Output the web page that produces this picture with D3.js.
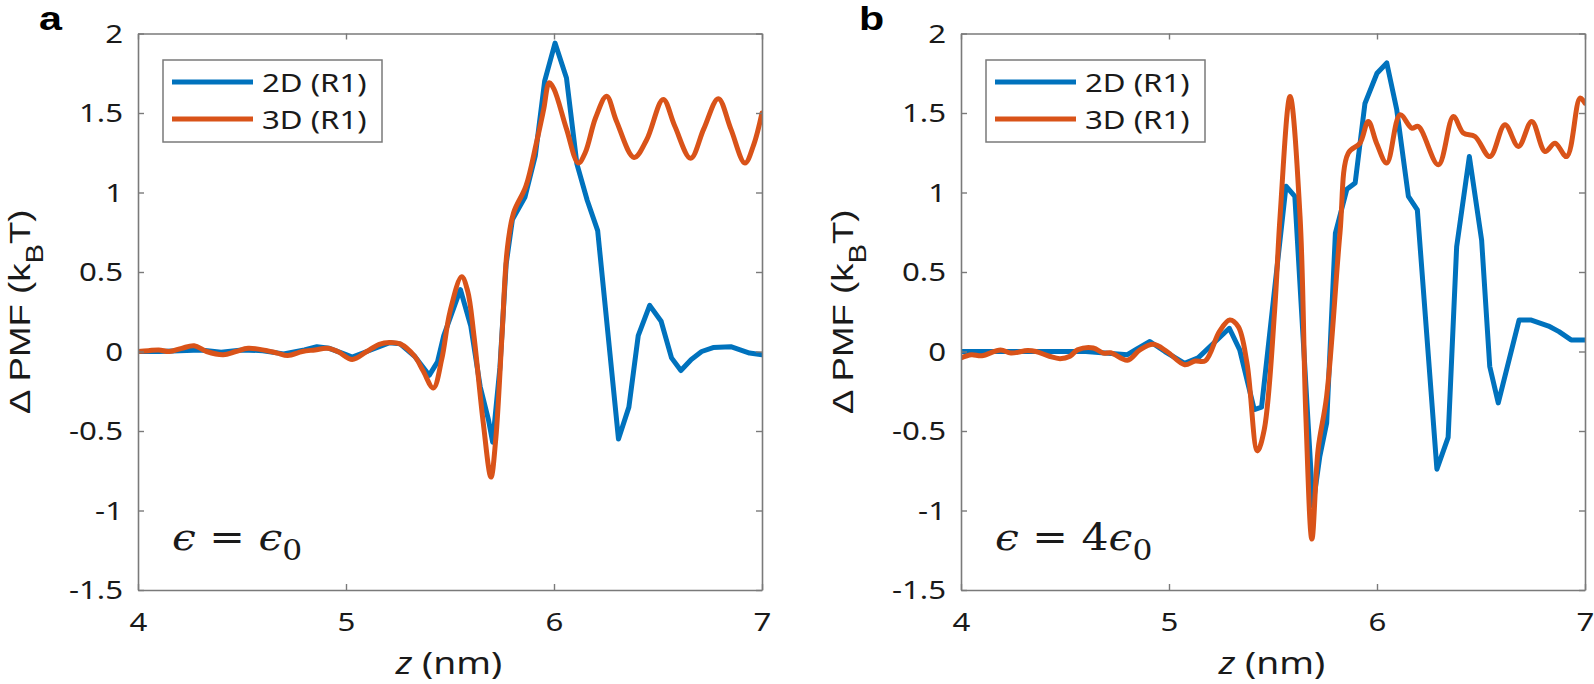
<!DOCTYPE html>
<html><head><meta charset="utf-8">
<script src="https://cdn.jsdelivr.net/npm/d3@7"></script>
<style>body{margin:0;background:#fff}svg{display:block}</style>
</head><body>
<svg id="c" width="1594" height="684"></svg>
<script>
// ---------- data ----------
const xTicks = [4, 5, 6, 7];
const yTicks = [-1.5, -1, -0.5, 0, 0.5, 1, 1.5, 2];
const yTickLabels = ["-1.5", "-1", "-0.5", "0", "0.5", "1", "1.5", "2"];
const seriesNames = ["2D (R1)", "3D (R1)"];
const panelLetters = ["a", "b"];

// panel a, 2D (R1)
const zBlueA = [4.0,4.1,4.2,4.3,4.4,4.5,4.6,4.7,4.8,4.86,4.92,5.0,5.03,5.1,5.16,5.21,5.26,5.33,5.4,5.44,5.47,5.55,5.6,5.645,5.685,5.705,5.74,5.77,5.8,5.86,5.91,5.955,6.005,6.06,6.11,6.16,6.21,6.31,6.36,6.405,6.46,6.515,6.565,6.61,6.66,6.71,6.765,6.85,6.94,7.0];
const vBlueA = [0.0,0.0,0.005,0.01,-0.005,0.01,0.005,-0.015,0.01,0.03,0.02,-0.02,-0.035,0.0,0.03,0.055,0.048,-0.03,-0.15,-0.065,0.1,0.39,0.16,-0.22,-0.43,-0.57,-0.1,0.55,0.83,0.97,1.23,1.70,1.94,1.72,1.18,0.95,0.76,-0.55,-0.35,0.1,0.29,0.19,-0.04,-0.12,-0.05,0.0,0.025,0.03,-0.01,-0.02];
// panel a, 3D (R1)
const zOrangeA = [4.0,4.05,4.1,4.15,4.21,4.27,4.33,4.41,4.47,4.53,4.62,4.67,4.72,4.79,4.85,4.91,4.96,5.03,5.1,5.16,5.21,5.26,5.33,5.37,5.42,5.46,5.5,5.556,5.585,5.615,5.66,5.697,5.72,5.75,5.775,5.805,5.865,5.915,5.95,5.977,6.0,6.06,6.117,6.15,6.2,6.253,6.3,6.385,6.445,6.525,6.58,6.657,6.72,6.79,6.85,6.918,6.96,7.0];
const vOrangeA = [0.0,0.005,0.01,0.0,0.02,0.036,0.0,-0.02,0.0,0.02,0.005,-0.01,-0.025,0.0,0.01,0.02,0.0,-0.05,0.0,0.045,0.057,0.048,-0.03,-0.12,-0.23,-0.05,0.25,0.47,0.38,0.1,-0.45,-0.79,-0.55,0.1,0.64,0.87,1.04,1.31,1.52,1.69,1.65,1.40,1.185,1.25,1.47,1.605,1.45,1.22,1.33,1.585,1.42,1.215,1.4,1.59,1.40,1.185,1.3,1.5];

// panel b, 2D (R1)
const zBlueB = [4.0,4.2,4.4,4.6,4.8,4.85,4.908,4.98,5.075,5.14,5.29,5.34,5.41,5.445,5.5625,5.605,5.692,5.725,5.758,5.8,5.855,5.895,5.942,6.0,6.047,6.095,6.151,6.194,6.288,6.342,6.383,6.444,6.503,6.542,6.583,6.683,6.742,6.825,6.875,6.933,7.0];
const vBlueB = [0.0,0.0,0.0,0.0,-0.02,0.02,0.063,0.0,-0.075,-0.04,0.146,0.01,-0.365,-0.35,1.04,0.975,-0.97,-0.66,-0.45,0.745,1.02,1.06,1.56,1.75,1.815,1.52,0.975,0.89,-0.74,-0.54,0.66,1.226,0.70,-0.094,-0.323,0.198,0.198,0.16,0.125,0.073,0.073];
// panel b, 3D (R1)
const zOrangeB = [4.0,4.05,4.1,4.19,4.24,4.32,4.36,4.425,4.476,4.524,4.56,4.636,4.684,4.72,4.8,4.86,4.925,4.99,5.075,5.125,5.175,5.242,5.292,5.333,5.375,5.425,5.458,5.508,5.534,5.582,5.63,5.658,5.687,5.717,5.758,5.822,5.862,5.918,5.958,5.998,6.047,6.111,6.167,6.199,6.295,6.367,6.415,6.471,6.543,6.615,6.68,6.744,6.808,6.856,6.912,6.976,7.0];
const vOrangeB = [-0.04,-0.02,-0.027,0.01,-0.01,0.006,0.0,-0.03,-0.045,-0.03,0.01,0.022,-0.01,-0.008,-0.055,0.01,0.045,0.0,-0.083,-0.06,-0.058,0.125,0.198,0.156,-0.073,-0.625,-0.49,0.26,0.85,1.604,0.85,-0.406,-1.18,-0.615,-0.28,0.745,1.248,1.31,1.447,1.31,1.185,1.489,1.405,1.415,1.174,1.478,1.374,1.352,1.226,1.426,1.29,1.447,1.258,1.31,1.226,1.594,1.562];

// ---------- layout / style ----------
const COL = ["#0072BD", "#D95319"];
const AX = "#7a7a7a";
const TXT = "#1a1a1a";
const SX = 1.2;               // horizontal stretch of the reference lettering
const FONT = "'Noto Sans', 'Open Sans', sans-serif";
const FONT2 = "'Liberation Sans', Arial, sans-serif";
const PW = 624, PH = 556.5;
const panels = [
  { left: 138, top: 33.5, z2: zBlueA, v2: vBlueA, z3: zOrangeA, v3: vOrangeA, eps: ["ϵ", " = ", "ϵ"], letterX: 39 },
  { left: 961, top: 33.5, z2: zBlueB, v2: vBlueB, z3: zOrangeB, v3: vOrangeB, eps: ["ϵ", " = 4", "ϵ"], letterX: 859 }
];

const svg = d3.select("#c");
svg.append("rect").attr("width", 1594).attr("height", 684).attr("fill", "#fff");

panels.forEach((p, pi) => {
  const g = svg.append("g").attr("transform", `translate(${p.left},${p.top})`);
  const x = d3.scaleLinear().domain([4, 7]).range([0, PW]);
  const y = d3.scaleLinear().domain([-1.5, 2]).range([PH, 0]);

  g.append("clipPath").attr("id", "clip" + pi)
    .append("rect").attr("width", PW).attr("height", PH);

  const lineLin = d3.line().x(d => x(d[0])).y(d => y(d[1])).curve(d3.curveLinear);
  const lineSm = d3.line().x(d => x(d[0])).y(d => y(d[1])).curve(d3.curveCatmullRom.alpha(0.5));

  const d2 = p.z2.map((z, i) => [z, p.v2[i]]);
  const d3s = p.z3.map((z, i) => [z, p.v3[i]]);

  const lg = g.append("g").attr("clip-path", `url(#clip${pi})`);
  lg.append("path").attr("d", lineLin(d2)).attr("fill", "none")
    .attr("stroke", COL[0]).attr("stroke-width", 5).attr("stroke-linejoin", "round").attr("stroke-linecap", "round");
  lg.append("path").attr("d", lineSm(d3s)).attr("fill", "none")
    .attr("stroke", COL[1]).attr("stroke-width", 5).attr("stroke-linejoin", "round").attr("stroke-linecap", "round");

  // axes
  const axB = g.append("g").attr("transform", `translate(0,${PH})`)
    .call(d3.axisBottom(x).tickValues(xTicks).tickFormat(d3.format("d")).tickSize(-6).tickSizeOuter(0));
  const axT = g.append("g")
    .call(d3.axisTop(x).tickValues(xTicks).tickFormat("").tickSize(-6).tickSizeOuter(0));
  const axL = g.append("g")
    .call(d3.axisLeft(y).tickValues(yTicks).tickFormat((d, i) => yTickLabels[i]).tickSize(-6).tickSizeOuter(0));
  const axR = g.append("g").attr("transform", `translate(${PW},0)`)
    .call(d3.axisRight(y).tickValues(yTicks).tickFormat("").tickSize(-6).tickSizeOuter(0));
  [axB, axT, axL, axR].forEach(a => {
    a.select(".domain").attr("stroke", AX).attr("stroke-width", 1.6);
    a.selectAll(".tick line").attr("stroke", AX).attr("stroke-width", 1.4);
    a.selectAll("text").attr("fill", TXT).attr("font-family", FONT).attr("font-size", 26);
  });
  axB.selectAll(".tick text").attr("y", null).attr("dy", "0.71em")
    .attr("transform", `translate(0,23) scale(${SX},1)`);
  axL.selectAll(".tick text").attr("x", null).attr("dy", "0.34em").attr("text-anchor", "end")
    .attr("transform", `translate(-15,0) scale(${SX},1)`);

  // axis titles
  const xt = g.append("text").attr("transform", `translate(${PW / 2 - 1},640) scale(${SX},1)`)
    .attr("text-anchor", "middle").attr("font-family", FONT).attr("font-size", 31).attr("fill", TXT);
  xt.append("tspan").attr("font-style", "italic").text("z");
  xt.append("tspan").text(" (nm)");

  const yt = g.append("text")
    .attr("transform", `translate(-108,${PH / 2}) rotate(-90) scale(1.22,1)`)
    .attr("text-anchor", "middle").attr("font-family", FONT2).attr("font-size", 30).attr("fill", TXT);
  yt.append("tspan").text("Δ PMF (k");
  yt.append("tspan").attr("font-size", 24).attr("dy", 13).text("B");
  yt.append("tspan").attr("dy", -13).text("T)");

  // legend
  const leg = g.append("g").attr("transform", "translate(25,26.5)");
  leg.append("rect").attr("width", 219).attr("height", 82).attr("fill", "#fff")
    .attr("stroke", AX).attr("stroke-width", 1.5);
  seriesNames.forEach((nm, i) => {
    const yy = 22 + i * 37;
    leg.append("line").attr("x1", 9).attr("x2", 90).attr("y1", yy).attr("y2", yy)
      .attr("stroke", COL[i]).attr("stroke-width", 5);
    leg.append("text").attr("transform", `translate(99,${yy + 9.5}) scale(${SX},1)`)
      .attr("font-family", FONT).attr("font-size", 26).attr("fill", TXT).text(nm);
  });

  // epsilon annotation
  const et = g.append("text").attr("transform", `translate(34,516) scale(1.12,1)`)
    .attr("font-family", "'DejaVu Serif', serif").attr("font-size", 38).attr("fill", TXT);
  et.append("tspan").attr("font-style", "italic").text(p.eps[0]);
  et.append("tspan").text(p.eps[1]);
  et.append("tspan").attr("font-style", "italic").text(p.eps[2]);
  et.append("tspan").attr("font-size", 28).attr("dy", 10).text("0");

  // panel letter
  svg.append("text").attr("transform", `translate(${p.letterX},30) scale(1.25,1)`)
    .attr("font-family", FONT2).attr("font-weight", "bold").attr("font-size", 33).attr("fill", "#000")
    .text(panelLetters[pi]);
});
</script>
</body></html>
